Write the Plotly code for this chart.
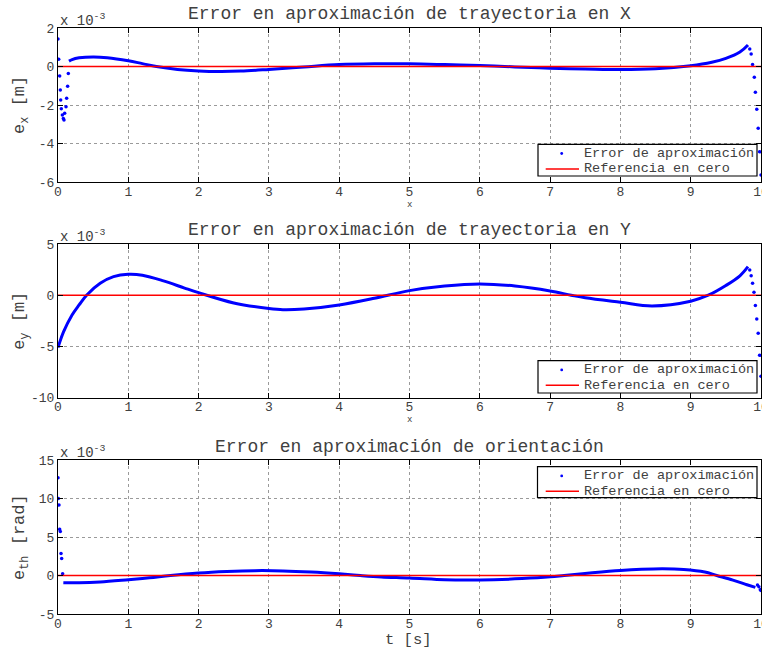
import plotly.graph_objects as go

# ---------------- data (values in units of 1e-3) ----------------
# Panel 1: error in X [m]
tx_dots = [0, 0.01, 0.024, 0.033, 0.038, 0.047, 0.062, 0.076, 0.085, 0.095, 0.114, 0.123, 0.137, 0.147,
           9.84, 9.86, 9.88, 9.905, 9.92, 9.94, 9.96, 9.98, 10.0]
ex_dots = [1.43, 0.38, -0.49, -1.22, -1.74, -2.19, -2.52, -2.70, -2.78, -2.43, -2.09, -1.65, -1.02, -0.36,
           0.91, 0.65, 0.11, -0.56, -1.34, -2.22, -3.21, -4.43, -5.64]
tx_line = [0.156, 0.2, 0.3, 0.5, 0.7, 1.0, 1.2, 1.4, 1.7, 2.0, 2.3, 2.6, 3.0, 3.5, 4.0, 4.5, 5.0,
           5.5, 6.0, 6.5, 7.0, 7.5, 8.0, 8.5, 9.0, 9.3, 9.5, 9.7, 9.815]
ex_line = [0.28, 0.36, 0.45, 0.50, 0.46, 0.30, 0.15, 0.0, -0.15, -0.23, -0.26, -0.24, -0.15, -0.02, 0.10, 0.14, 0.14,
           0.10, 0.05, -0.02, -0.09, -0.13, -0.16, -0.12, 0.04, 0.22, 0.42, 0.75, 1.12]

# Panel 2: error in Y [m]
ty_dots = [9.84, 9.86, 9.88, 9.90, 9.92, 9.94, 9.96, 9.98, 10.0]
ey_dots = [2.46, 1.91, 1.16, 0.28, -0.99, -2.32, -3.72, -5.85, -7.9]
ty_line = [0, 0.08, 0.2, 0.3, 0.41, 0.6, 0.79, 1.0, 1.2, 1.5, 1.8, 2.0, 2.5, 3.0, 3.2, 3.5, 4.0, 4.5,
           5.0, 5.5, 6.0, 6.5, 7.0, 7.3, 7.5, 8.0, 8.45, 9.0, 9.25, 9.5, 9.7, 9.815]
ey_line = [-5.1, -3.56, -1.93, -0.95, 0.02, 1.16, 1.81, 2.04, 1.95, 1.4, 0.7, 0.25, -0.75, -1.3, -1.42, -1.35, -0.95, -0.3,
           0.45, 0.9, 1.1, 0.9, 0.42, 0.0, -0.25, -0.68, -1.04, -0.58, 0.0, 0.95, 1.9, 2.79]

# Panel 3: orientation error [rad]
tt_dots = [0, 0.005, 0.014, 0.024, 0.033, 0.043, 0.052, 0.066, 9.95, 9.97, 9.99, 10.0]
et_dots = [12.7, 10.0, 9.15, 6.0, 5.7, 2.85, 2.2, 0.24, -1.25, -1.45, -1.85, -1.95]
tt_line = [0.076, 0.3, 0.6, 1.0, 1.3, 1.6, 2.0, 2.4, 2.8, 3.2, 3.6, 4.0, 4.3, 4.6, 5.0, 5.5, 5.8, 6.2,
           6.6, 7.0, 7.2, 7.6, 8.0, 8.3, 8.6, 8.9, 9.2, 9.37, 9.6, 9.8, 9.92]
et_line = [-0.93, -0.95, -0.85, -0.55, -0.3, 0.0, 0.32, 0.52, 0.63, 0.6, 0.45, 0.22, 0.0, -0.18, -0.32, -0.55, -0.6, -0.55,
           -0.4, -0.17, 0.0, 0.35, 0.65, 0.8, 0.87, 0.78, 0.45, 0.0, -0.6, -1.2, -1.55]

ref_t = [0, 10]
ref_v = [0, 0]

titles = ["Error en aproximación de trayectoria en X",
          "Error en aproximación de trayectoria en Y",
          "Error en aproximación de orientación"]
ylabels = ["e<sub>x</sub> [m]", "e<sub>y</sub> [m]", "e<sub>th</sub> [rad]"]
x_ticks = list(range(0, 11))
y_ticks = [[-6, -4, -2, 0, 2], [-10, -5, 0, 5], [-5, 0, 5, 10, 15]]
y_ranges = [[-6, 2], [-10, 5], [-5, 15]]
legend_names = ["Error de aproximación", "Referencia en cero"]

# ---------------- figure ----------------
W, H = 762, 647
ML, MR = 58, 1
FONT = "Liberation Mono, Courier New, monospace"
TXT = "#404040"
BLUE = "#0000ff"

def px_x(p):
    return (p - ML) / (W - ML - MR)

def px_y(p):
    return 1 - p / H

# pixel boxes (top, bottom) of each plot area
boxes = [(28, 182), (244, 397.7), (460, 614)]
legend_boxes = [(538, 144.3, 757, 176), (538, 360.7, 757, 393), (537.5, 466.7, 757, 497.7)]

fig = go.Figure()
series = [(tx_dots, ex_dots, tx_line, ex_line),
          (ty_dots, ey_dots, ty_line, ey_line),
          (tt_dots, et_dots, tt_line, et_line)]

for i, (td, vd, tl, vl) in enumerate(series):
    sfx = "" if i == 0 else str(i + 1)
    fig.add_trace(go.Scatter(x=td, y=vd, mode="markers", name=legend_names[0],
                             marker=dict(color=BLUE, size=3.5), xaxis="x" + sfx, yaxis="y" + sfx,
                             showlegend=False))
    fig.add_trace(go.Scatter(x=tl, y=vl, mode="lines", name=legend_names[0],
                             line=dict(color=BLUE, width=3, shape="spline"),
                             xaxis="x" + sfx, yaxis="y" + sfx, showlegend=False))
    fig.add_trace(go.Scatter(x=ref_t, y=ref_v, mode="lines", name=legend_names[1],
                             line=dict(color="red", width=1.5), xaxis="x" + sfx, yaxis="y" + sfx,
                             showlegend=False))

layout = dict(width=W, height=H, margin=dict(l=ML, r=MR, t=0, b=0), template="none",
              plot_bgcolor="white", paper_bgcolor="white", showlegend=False,
              font=dict(family=FONT, size=14, color=TXT))

annotations = []
shapes = []
for i in range(3):
    sfx = "" if i == 0 else str(i + 1)
    top, bot = boxes[i]
    axis_common = dict(showline=True, linecolor="black", linewidth=1.2, mirror="ticks",
                       ticks="inside", ticklen=5, tickcolor="black", tickwidth=1,
                       showgrid=True, gridcolor="#9a9a9a", griddash="dot", gridwidth=1,
                       zeroline=False, automargin=False, ticklabeloverflow="allow",
                       tickfont=dict(family=FONT, size=13, color=TXT))
    layout["xaxis" + sfx] = dict(axis_common, domain=[0, 1], anchor="y" + sfx, range=[0, 10],
                                 tickvals=x_ticks, ticktext=[str(v) for v in x_ticks],
                                 ticklabelstandoff=-3)
    layout["yaxis" + sfx] = dict(axis_common, domain=[px_y(bot), px_y(top)], anchor="x" + sfx,
                                 range=y_ranges[i], tickvals=y_ticks[i],
                                 ticktext=[str(v) for v in y_ticks[i]])
    # title
    annotations.append(dict(text=titles[i], x=0.5, y=px_y([14, 230, 446.5][i]), xref="paper", yref="paper",
                            showarrow=False, xanchor="center", yanchor="middle",
                            font=dict(family=FONT, size=18, color=TXT)))
    # exponent label
    annotations.append(dict(text="x 10<sup>-3</sup>", x=0, y=px_y([20, 236, 452][i]), xref="paper", yref="paper",
                            showarrow=False, xanchor="left", yanchor="middle",
                            font=dict(family=FONT, size=14, color=TXT)))
    # y label
    annotations.append(dict(text=ylabels[i], x=px_x(21), y=px_y((top + bot) / 2), xref="paper", yref="paper",
                            showarrow=False, xanchor="center", yanchor="middle", textangle=-90,
                            font=dict(family=FONT, size=17, color=TXT)))
    # legend (box, symbols, labels)
    lx0, ly0, lx1, ly1 = legend_boxes[i]
    shapes.append(dict(type="rect", xref="paper", yref="paper", x0=px_x(lx0), x1=px_x(lx1),
                       y0=px_y(ly1), y1=px_y(ly0), line=dict(color="black", width=1.2),
                       fillcolor="white", layer="above"))
    r1, r2 = ly0 + 9.2, ly0 + 24.6
    shapes.append(dict(type="circle", xref="paper", yref="paper", x0=px_x(560.3), x1=px_x(563.1),
                       y0=px_y(r1 + 1.4), y1=px_y(r1 - 1.4), line=dict(color=BLUE, width=0),
                       fillcolor=BLUE, layer="above"))
    shapes.append(dict(type="line", xref="paper", yref="paper", x0=px_x(545.7), x1=px_x(579),
                       y0=px_y(r2), y1=px_y(r2), line=dict(color="red", width=1.5), layer="above"))
    for name, r in zip(legend_names, (r1, r2)):
        annotations.append(dict(text=name, x=px_x(582), y=px_y(r), xref="paper", yref="paper",
                                showarrow=False, xanchor="left", yanchor="middle",
                                font=dict(family=FONT, size=13.5, color=TXT)))

# x labels
annotations.append(dict(text="x", x=px_x(409), y=px_y(205), xref="paper", yref="paper", showarrow=False,
                        xanchor="center", yanchor="middle", font=dict(family=FONT, size=9, color=TXT)))
annotations.append(dict(text="x", x=px_x(409), y=px_y(420), xref="paper", yref="paper", showarrow=False,
                        xanchor="center", yanchor="middle", font=dict(family=FONT, size=9, color=TXT)))
annotations.append(dict(text="t [s]", x=px_x(408), y=px_y(639.5), xref="paper", yref="paper", showarrow=False,
                        xanchor="center", yanchor="middle", font=dict(family=FONT, size=15.5, color=TXT)))
layout["annotations"] = annotations
layout["shapes"] = shapes

fig.update_layout(**layout)
fig.write_html("out.html")
